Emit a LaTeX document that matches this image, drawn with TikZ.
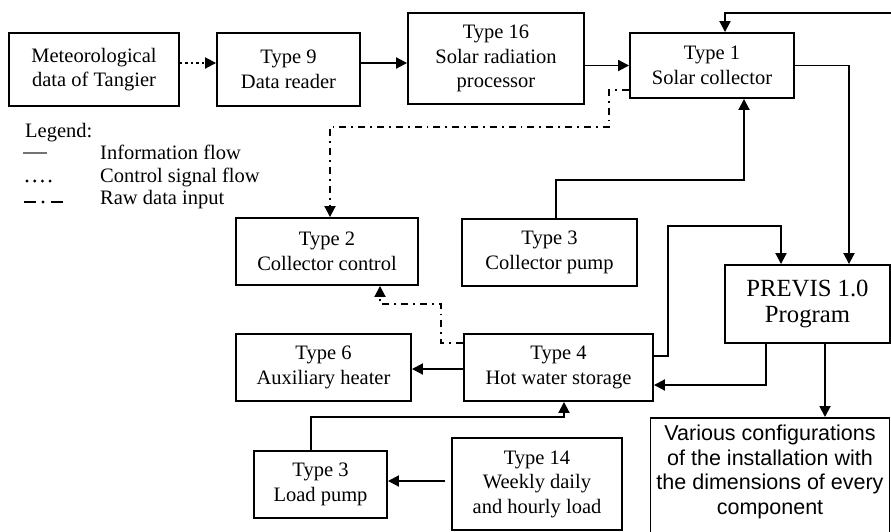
\documentclass[tikz,border=0pt]{standalone}
\usepackage{fontspec}
\setmainfont{Liberation Serif}
\newfontfamily\arialfont{Liberation Sans}
\usetikzlibrary{arrows.meta}
\begin{document}
\begin{tikzpicture}[x=1pt,y=-1pt,
  box/.style={draw, line width=1.9pt, rectangle, inner sep=0pt, align=center,
    font=\fontsize{20.5}{24.5}\selectfont},
  conn/.style={line width=1.9pt, -{Triangle[length=11pt,width=11pt]}},
  dotflow/.style={conn, dash pattern=on 2.5pt off 3pt},
  rawflow/.style={conn, dash pattern=on 7pt off 5pt on 1.8pt off 5pt},
  legtext/.style={anchor=base west, inner sep=0pt, font=\fontsize{20.5}{24.5}\selectfont}]
\useasboundingbox (0,0) rectangle (891,531);

% boxes
\node[box, minimum width=170pt, minimum height=73pt] (met) at (94,69.5) {Meteorological\\data of Tangier};
\node[box, minimum width=143pt, minimum height=73pt] (t9) at (288.5,69.5) {Type 9\\Data reader};
\node[box, minimum width=176pt, minimum height=91pt] (t16) at (496,58.5) {Type 16\\Solar radiation\\processor};
\node[box, minimum width=164pt, minimum height=65pt] (t1) at (712,65.5) {Type 1\\Solar collector};
\node[box, minimum width=182pt, minimum height=67pt] (t2) at (327,251.5) {Type 2\\Collector control};
\node[box, minimum width=175pt, minimum height=67pt] (t3c) at (549.5,252.5) {Type 3\\Collector pump};
\node[box, minimum width=165pt, minimum height=78pt, font=\fontsize{24.7}{27}\selectfont] (previs) at (807.5,304) {\raisebox{-2pt}{PREVIS 1.0}\\\raisebox{-1pt}{Program}};
\node[box, minimum width=189pt, minimum height=67pt] (t4) at (558.5,367.5) {Type 4\\Hot water storage};
\node[box, minimum width=175pt, minimum height=67pt] (t6) at (323.5,367.5) {Type 6\\Auxiliary heater};
\node[box, minimum width=133pt, minimum height=67pt] (t3l) at (320.5,484.5) {Type 3\\Load pump};
\node[box, minimum width=170pt, minimum height=92pt] (t14) at (537,484) {Type 14\\Weekly daily\\and hourly load};
\node[box, minimum width=239pt, minimum height=120pt, anchor=north] (various) at (770,417) {};
\node[anchor=north, inner sep=0pt, align=center, font=\arialfont\fontsize{21.5}{24.5}\selectfont]
  (varioustext) at ([yshift=-8pt]various.north) {Various configurations\\of the installation with\\the dimensions of every\\component};

% legend
\node[legtext] (leg) at (25,137) {Legend:};
\node[legtext] (l1) at (100,159) {Information flow};
\node[legtext] (l2) at (100,182) {Control signal flow};
\node[legtext] (l3) at (100,204) {Raw data input};
\draw[line width=1.5pt, black!55] (23,153) -- (47,153);
\foreach \dx in {0,7.7,15.4,23.1} \fill (27+\dx,181) circle (1.6pt);
\draw[line width=2.2pt] (24,202) -- (36,202);
\fill (43,202) circle (1.7pt);
\draw[line width=2.2pt] (51,202) -- (63,202);

% connectors
\coordinate (fbR) at (893,13);
\draw[dotflow] ([yshift=6.5pt]met.east) -- ([yshift=6.5pt]met.east -| t9.west);
\draw[conn] ([yshift=6.5pt]t9.east) -- ([yshift=6.5pt]t9.east -| t16.west);
\draw[conn] (t1.west -| t16.east) -- (t1.west);
\draw[conn] (fbR) -| ([xshift=13pt]t1.north);
\draw[conn] (t1.east) -| ([xshift=41.5pt]previs.north);
\draw[rawflow] ([yshift=-24.5pt]t1.west) -- ++(-20,0) -- ++(0,37) -| ([xshift=3pt]t2.north);
\draw[conn] ([xshift=6.5pt]t3c.north) -- ++(0,-38) -| ([xshift=32pt]t1.south);
\draw[conn] ([yshift=11.5pt]t4.east) -- ++(14,0) -- ++(0,-130) -| ([xshift=-26.5pt]previs.north);
\draw[conn] ([xshift=-41.5pt]previs.south) |- ([yshift=-17.5pt]t4.east);
\draw[conn] ([xshift=17.5pt]previs.south) -- ([xshift=17.5pt]previs.south |- various.north);
\draw[rawflow] ([yshift=24.5pt]t4.west) -- ++(-22,0) -- ++(0,-39) -| ([xshift=53pt]t2.south);
\draw[conn] ([yshift=-1.5pt]t4.west) -- ([yshift=-1.5pt]t4.west -| t6.east);
\draw[conn] ([xshift=-9.5pt]t3l.north) -- ++(0,-33) -| ([xshift=5.5pt]t4.south);
\draw[conn, shorten <=6pt] ([yshift=3pt]t14.west) -- ([yshift=3pt]t14.west -| t3l.east);
\end{tikzpicture}
\end{document}
